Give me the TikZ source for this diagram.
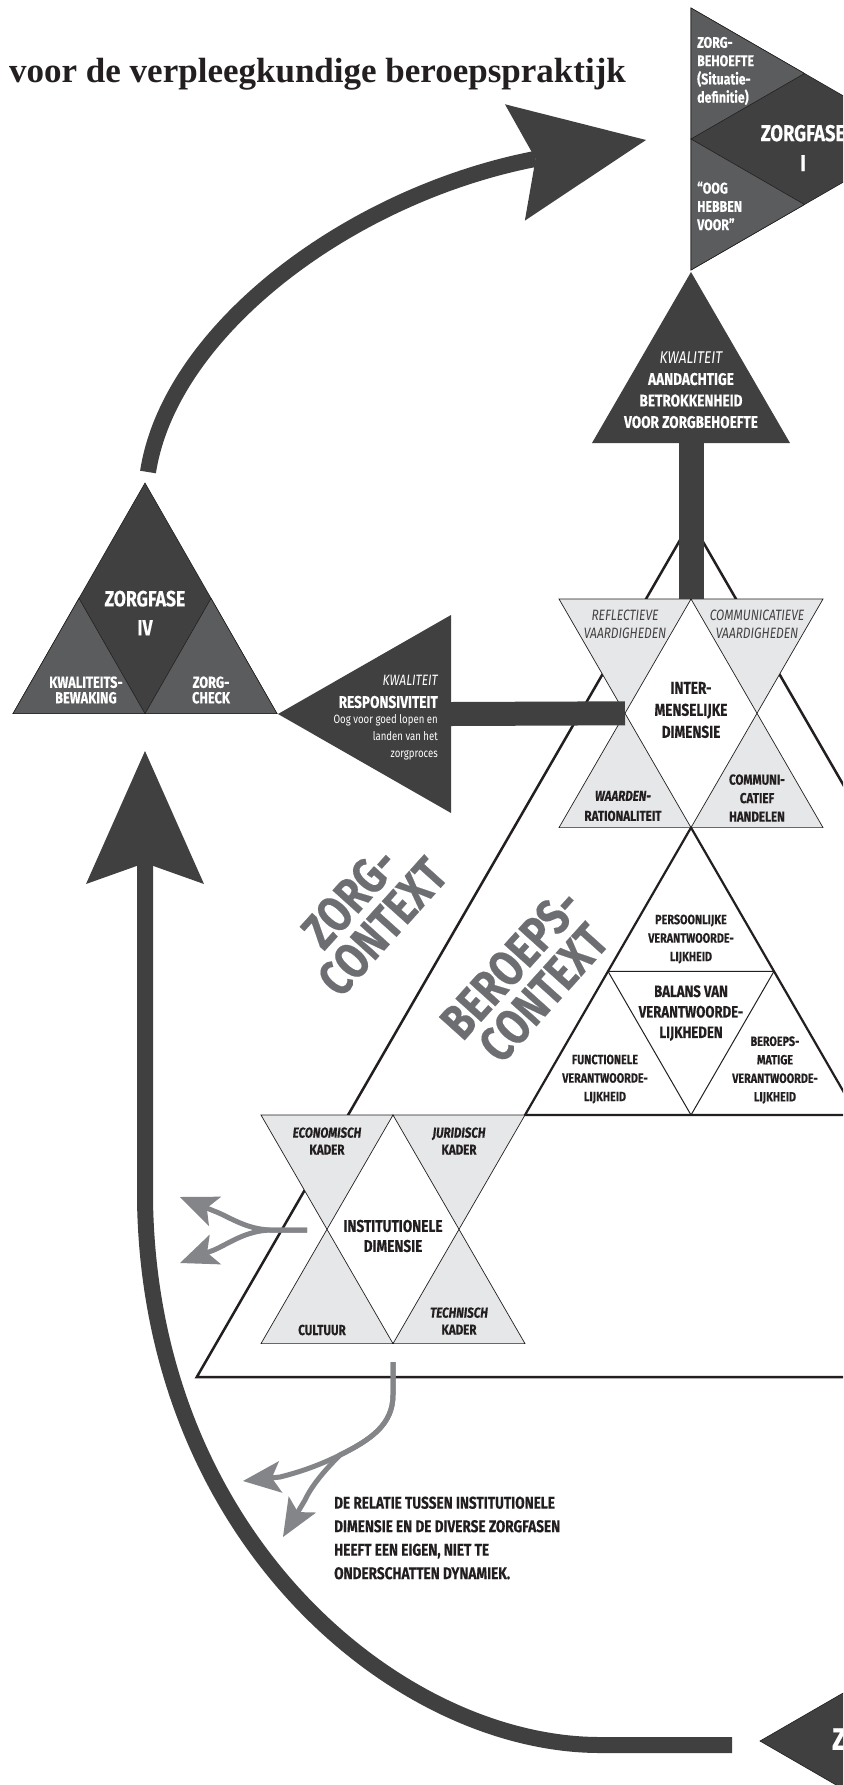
\documentclass[tikz,border=0pt]{standalone}
\usepackage{fontspec}
\setmainfont{Liberation Serif}
\newfontfamily\cond[FakeStretch=0.8, BoldFeatures={FakeBold=0.3}, BoldItalicFeatures={FakeBold=0.3}]{Fira Sans}
\usetikzlibrary{arrows.meta}

\definecolor{darkfill}{HTML}{404041}
\definecolor{midfill}{HTML}{5B5C5E}
\definecolor{lightfill}{HTML}{E6E7E8}
\definecolor{arrowgray}{HTML}{838588}
\definecolor{ink}{HTML}{231F20}
\definecolor{ctxgray}{HTML}{6D6E71}

\newcommand{\fsz}[2]{\fontsize{#1}{#2}\selectfont}

\tikzset{
  darktri/.style={fill=darkfill, draw=ink, line width=0.6pt},
  midtri/.style={fill=midfill, draw=ink, line width=0.6pt},
  lighttri/.style={fill=lightfill, draw=ink, line width=0.7pt},
  ctxline/.style={draw=ink, line width=2.5pt, line join=miter},
  bar/.style={draw=darkfill, line width=25pt},
  bigarrow/.style={draw=darkfill, line width=16pt,
    -{Stealth[length=133pt, width=118pt, inset=21pt, line width=0pt]}},
  grayarrow/.style={draw=arrowgray, line width=5pt,
    -{Stealth[length=38pt, width=32pt, inset=9pt, line width=0pt]}},
  wlbl/.style={text=white, align=center, font=\cond\bfseries},
  blbl/.style={text=ink, align=center, font=\cond\bfseries},
}

\begin{document}
\begin{tikzpicture}[x=1pt, y=-1pt, every node/.style={inner sep=0pt}]

  \clip (0,0) rectangle (843,1785);
  \fill[white] (0,0) rectangle (843,1785);

  % title
  \node (title) [anchor=base west, text=ink, font=\bfseries\fsz{35}{40}]
    at (9,82) {voor de verpleegkundige beroepspraktijk};

  % zorg-context triangle
  \coordinate (ctx-top) at (691,521);
  \coordinate (ctx-l) at (196.8,1377);
  \coordinate (ctx-r) at (1185.2,1377);
  \draw[ctxline] (ctx-top) -- (ctx-l) -- (ctx-r) -- cycle;

  % balans van verantwoordelijkheden
  \coordinate (bal-top) at (691,827.6);
  \coordinate (bal-l) at (525,1115);
  \coordinate (bal-r) at (857,1115);
  \filldraw[fill=white, draw=ink, line width=2.2pt] (bal-top) -- (bal-l) -- (bal-r) -- cycle;
  \draw[ink, line width=1pt] (608,971.3) -- (774,971.3) -- (691,1115) -- cycle;

  % intermenselijke dimensie
  \coordinate (im-top) at (691,599);
  \coordinate (im-w) at (625,713.3);
  \filldraw[lighttri] (559,599) -- (691,599) -- (625,713.3) -- cycle;
  \filldraw[lighttri] (691,599) -- (823,599) -- (757,713.3) -- cycle;
  \filldraw[lighttri] (559,827.6) -- (691,827.6) -- (625,713.3) -- cycle;
  \filldraw[lighttri] (691,827.6) -- (823,827.6) -- (757,713.3) -- cycle;

  % institutionele dimensie
  \coordinate (inst-w) at (307,1230);
  \coordinate (inst-s) at (393,1362);
  \filldraw[lighttri] (261,1115) -- (393,1115) -- (327,1229.3) -- cycle;
  \filldraw[lighttri] (393,1115) -- (525,1115) -- (459,1229.3) -- cycle;
  \filldraw[lighttri] (261,1343.6) -- (393,1343.6) -- (327,1229.3) -- cycle;
  \filldraw[lighttri] (393,1343.6) -- (525,1343.6) -- (459,1229.3) -- cycle;

  % zorgfase I
  \coordinate (z1a) at (691,8);
  \coordinate (z1b) at (691,270);
  \coordinate (z1c) at (918,139);
  \filldraw[darktri] (z1a) -- (z1c) -- (z1b) -- cycle;
  \filldraw[midtri] (z1a) -- (804.5,73.5) -- (691,139) -- cycle;
  \filldraw[midtri] (691,139) -- (804.5,204.5) -- (z1b) -- cycle;

  % zorgfase IV
  \coordinate (z4a) at (145,483);
  \coordinate (z4b) at (13,713.6);
  \coordinate (z4c) at (277,713.6);
  \filldraw[darktri] (z4a) -- (z4b) -- (z4c) -- cycle;
  \filldraw[midtri] (z4b) -- (79,598.3) -- (145,713.6) -- cycle;
  \filldraw[midtri] (145,713.6) -- (211,598.3) -- (z4c) -- cycle;

  % zorgfase III (bottom right)
  \filldraw[darktri] (760,1741) -- (1022,1589.7) -- (1022,1892.3) -- cycle;

  % kwaliteit triangles
  \coordinate (kw1-base) at (691,443);
  \filldraw[darktri, draw=none] (691,272) -- (790,443) -- (592,443) -- cycle;
  \coordinate (resp-base) at (451,714);
  \filldraw[darktri, draw=none] (278,714) -- (451,615) -- (451,813) -- cycle;

  % connectors
  \draw[bar] (kw1-base) -- (im-top);
  \draw[bar, line width=24pt] (resp-base) -- (im-w);

  % big arrows between zorgfases
  \coordinate (z4-arc) at (148,472);
  \coordinate (z1-tip) at (646,140);
  \draw[bigarrow] (z4-arc) .. controls (170,330) and (350,195) .. (535,159) -- (z1-tip);
  \coordinate (z3-tail) at (732,1745);
  \coordinate (z4-tip) at (145,751);
  \draw[bigarrow] (z3-tail) -- (600,1745) .. controls (400,1745) and (150,1540) .. (145,1200) -- (z4-tip);

  % gray arrows from institutionele dimensie
  \coordinate (g1s) at (270,1230);
  \draw[grayarrow] (inst-w) -- (g1s) .. controls (245,1229) and (228,1216) .. (214,1211) -- (180,1197);
  \draw[grayarrow] (inst-w) -- (g1s) .. controls (245,1231) and (228,1244) .. (214,1250) -- (180,1263);
  \coordinate (g2s) at (340,1455);
  \draw[grayarrow] (inst-s) -- (393,1395) .. controls (393,1425) and (370,1440) .. (g2s)
    .. controls (320,1465) and (300,1472) .. (280,1477) -- (243,1481);
  \draw[grayarrow] (inst-s) -- (393,1395) .. controls (393,1425) and (370,1440) .. (g2s)
    .. controls (325,1470) and (312,1485) .. (305,1500) -- (283,1537);

  % texts zorgfase I
  \node (z1-need) [wlbl, align=left, anchor=west, font=\cond\bfseries\fsz{15.5}{18.3}]
    at (697,71) {ZORG-\\BEHOEFTE\\(Situatie-\\definitie)};
  \node (z1-eye) [wlbl, align=left, anchor=west, font=\cond\bfseries\fsz{15.5}{18.3}]
    at (697,206) {“OOG\\HEBBEN\\VOOR”};
  \node (z1-name) [wlbl, font=\cond\bfseries\fsz{23}{30}] at (803,148) {ZORGFASE\\I};

  % texts zorgfase IV
  \node (z4-name) [wlbl, font=\cond\bfseries\fsz{22}{29}] at (145,613) {ZORGFASE\\IV};
  \node (z4-qual) [wlbl, font=\cond\bfseries\fsz{16}{15.5}] at (86,690) {KWALITEITS-\\BEWAKING};
  \node (z4-check) [wlbl, font=\cond\bfseries\fsz{16}{15.5}] at (211,690) {ZORG-\\CHECK};

  % text zorgfase III
  \node (z3-name) [wlbl, anchor=west, font=\cond\bfseries\fsz{31}{36}] at (832,1739) {ZORGFASE};

  % kwaliteit texts
  \node (kw1-text) [wlbl, font=\cond\bfseries\fsz{17}{21.5}] at (691,390)
    {{\mdseries\itshape\color{white!85}KWALITEIT}\\AANDACHTIGE\\BETROKKENHEID\\VOOR ZORGBEHOEFTE};
  \node (resp-kw) [anchor=east, text=white!85, font=\cond\itshape\fsz{15}{18}] at (438,680) {KWALITEIT};
  \node (resp-name) [anchor=east, text=white, font=\cond\bfseries\fsz{17}{20}] at (438,702) {RESPONSIVITEIT};
  \node (resp-desc) [anchor=north east, align=right, text=white, font=\cond\fsz{12}{17}] at (438,714)
    {Oog voor goed lopen en\\landen van het\\zorgproces};

  % intermenselijke dimensie texts
  \node (im-refl) [blbl, text=ink!85, font=\cond\itshape\fsz{15}{18}] at (625,624) {REFLECTIEVE\\VAARDIGHEDEN};
  \node (im-comm) [blbl, text=ink!85, font=\cond\itshape\fsz{15}{18}] at (757,624) {COMMUNICATIEVE\\VAARDIGHEDEN};
  \node (im-name) [blbl, font=\cond\bfseries\fsz{17}{22}] at (691,710) {INTER-\\MENSELIJKE\\DIMENSIE};
  \node (im-val) [blbl, font=\cond\bfseries\fsz{14.5}{20}] at (623,806) {{\itshape WAARDEN-}\\RATIONALITEIT};
  \node (im-act) [blbl, font=\cond\bfseries\fsz{14.5}{18.5}] at (757,798) {COMMUNI-\\CATIEF\\HANDELEN};

  % balans texts
  \node (bal-pers) [blbl, font=\cond\bfseries\fsz{13.5}{18.5}] at (691,939) {PERSOONLIJKE\\VERANTWOORDE-\\LIJKHEID};
  \node (bal-name) [blbl, font=\cond\bfseries\fsz{16.5}{20.5}] at (691,1013) {BALANS VAN\\VERANTWOORDE-\\LIJKHEDEN};
  \node (bal-func) [blbl, font=\cond\bfseries\fsz{13.5}{18.5}] at (605,1079) {FUNCTIONELE\\VERANTWOORDE-\\LIJKHEID};
  \node (bal-prof) [blbl, font=\cond\bfseries\fsz{13.5}{18.5}] at (775,1070) {BEROEPS-\\MATIGE\\VERANTWOORDE-\\LIJKHEID};

  % institutionele dimensie texts
  \node (inst-eco) [blbl, font=\cond\bfseries\fsz{14.5}{17}] at (327,1141) {{\itshape ECONOMISCH}\\KADER};
  \node (inst-jur) [blbl, font=\cond\bfseries\fsz{14.5}{17}] at (459,1141) {{\itshape JURIDISCH}\\KADER};
  \node (inst-name) [blbl, font=\cond\bfseries\fsz{17}{20}] at (393,1236) {INSTITUTIONELE\\DIMENSIE};
  \node (inst-cult) [blbl, font=\cond\bfseries\fsz{14.5}{17}] at (322,1330) {CULTUUR};
  \node (inst-tech) [blbl, font=\cond\bfseries\fsz{14.5}{17}] at (459,1321) {{\itshape TECHNISCH}\\KADER};

  % context labels
  \node (ctx-zorg) [text=ctxgray, align=center, rotate=48, font=\cond\bfseries\fsz{50}{44}]
    at (366,912) {ZORG-\\CONTEXT};
  \node (ctx-beroep) [text=ctxgray, align=center, rotate=48, font=\cond\bfseries\fsz{50}{44}]
    at (527,978) {BEROEPS-\\CONTEXT};

  % note
  \node (note) [anchor=west, align=left, text=ink, font=\cond\bfseries\fsz{17}{23.5}] at (334,1538)
    {DE RELATIE TUSSEN INSTITUTIONELE\\DIMENSIE EN DE DIVERSE ZORGFASEN\\HEEFT EEN EIGEN, NIET TE\\ONDERSCHATTEN DYNAMIEK.};

\end{tikzpicture}
\end{document}
